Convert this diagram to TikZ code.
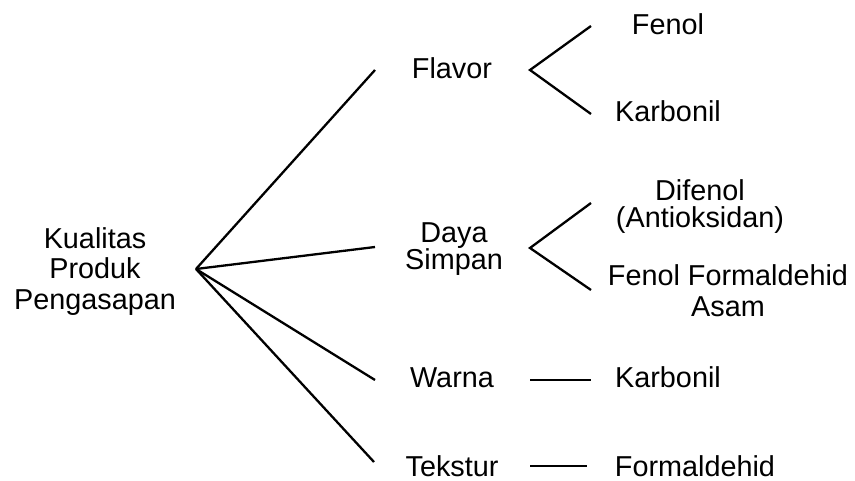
\documentclass[tikz,border=0pt]{standalone}
\usepackage{fontspec}
\setmainfont{Liberation Sans}
\begin{document}
\begin{tikzpicture}[x=1pt,y=-1pt,
  lbl/.style={inner sep=0pt, font=\fontsize{28.8}{30}\selectfont, align=center},
  conn/.style={line width=2.3pt, line cap=butt}]
\useasboundingbox (0,0) rectangle (855,481);
% labels
\node[lbl, anchor=north, font=\fontsize{28.8}{30.5}\selectfont] (root) at (95,227) {Kualitas\\Produk\\Pengasapan};
\node[lbl, anchor=base] (flavor) at (452,79) {Flavor};
\node[lbl, anchor=north, font=\fontsize{28.8}{26}\selectfont] (daya) at (454,222) {Daya\\Simpan};
\node[lbl, anchor=base] (warna) at (452,388) {Warna};
\node[lbl, anchor=base] (tekstur) at (452,476) {Tekstur};
\node[lbl, anchor=base] (fenol) at (668,35) {Fenol};
\node[lbl, anchor=base] (karb1) at (668,122) {Karbonil};
\node[lbl, anchor=north, font=\fontsize{28.8}{27}\selectfont] (difenol) at (700,179) {Difenol\\(Antioksidan)};
\node[lbl, anchor=north, font=\fontsize{28.8}{31}\selectfont] (ffa) at (728,264) {Fenol Formaldehid\\Asam};
\node[lbl, anchor=base] (karb2) at (668,388) {Karbonil};
\node[lbl, anchor=base] (formal) at (695,476) {Formaldehid};
% connector points
\coordinate (hub) at (196,269);
\coordinate (flE) at (375,70);
\coordinate (dsE) at (375,247);
\coordinate (waE) at (375,380);
\coordinate (teE) at (374,462);
\coordinate (flA) at (530,70);
\coordinate (flU) at (591,26);
\coordinate (flL) at (591,114);
\coordinate (dsA) at (530,248);
\coordinate (dsU) at (591,203);
\coordinate (dsL) at (591,290);
\coordinate (waS) at (530,380);
\coordinate (waT) at (591,380);
\coordinate (teS) at (530,466);
\coordinate (teT) at (587,466);
% connectors
\draw[conn] (hub) -- (flE);
\draw[conn] (hub) -- (dsE);
\draw[conn] (hub) -- (waE);
\draw[conn] (hub) -- (teE);
\draw[conn] (flU) -- (flA) -- (flL);
\draw[conn] (dsU) -- (dsA) -- (dsL);
\draw[conn] (waS) -- (waT);
\draw[conn] (teS) -- (teT);
\end{tikzpicture}
\end{document}
